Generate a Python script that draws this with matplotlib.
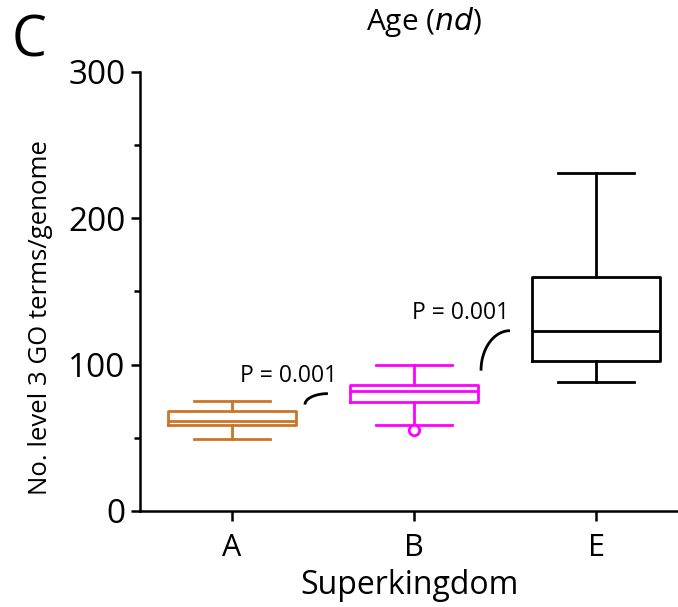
import numpy as np
import matplotlib
matplotlib.use("Agg")
import matplotlib.pyplot as plt
from matplotlib.ticker import MultipleLocator

plt.rcParams['font.family'] = ['Open Sans', 'DejaVu Sans']

# Box summaries per superkingdom (No. level 3 GO terms per genome)
groups = ["A", "B", "E"]
colors = ["#CD7526", "#FF00FF", "#000000"]
whis_low = [49.3, 59.0, 88.2]
q1 = [58.6, 74.7, 102.3]
medians = [61.8, 81.8, 122.7]
q3 = [68.6, 85.9, 160.0]
whis_high = [75.0, 100.0, 231.3]
outliers = [[], [55.0], []]

# Pairwise tests between neighbouring groups
p_labels = ["P = 0.001", "P = 0.001"]
p_text_xy = [(1.313, 92.0), (2.258, 135.0)]
# connector arcs: (x start, x end, y bottom, y top)
p_arcs = [(1.401, 1.527, 72.7, 80.2), (2.368, 2.527, 95.9, 123.2)]

fig = plt.figure(figsize=(6.78, 6.07), dpi=100)
ax = fig.add_axes([0.2065, 0.1582, 0.7935, 0.7232])

for i, g in enumerate(groups):
    stats = [dict(label=g, whislo=whis_low[i], q1=q1[i], med=medians[i],
                  q3=q3[i], whishi=whis_high[i], fliers=outliers[i])]
    c = colors[i]
    lw = 2.0
    ax.bxp(stats, positions=[i + 1], widths=0.70, showfliers=True,
           boxprops=dict(color=c, linewidth=lw),
           medianprops=dict(color=c, linewidth=lw),
           whiskerprops=dict(color=c, linewidth=lw),
           capprops=dict(color=c, linewidth=lw),
           capwidths=0.42,
           flierprops=dict(marker="o", markerfacecolor="white",
                           markeredgecolor=c, markersize=7.5,
                           markeredgewidth=2.0),
           manage_ticks=False)

for label, (tx, ty), (x0, x1, y0, y1) in zip(p_labels, p_text_xy, p_arcs):
    ax.text(tx, ty, label, ha="center", va="center", fontsize=16.5)
    t = np.linspace(np.pi, np.pi / 2, 40)
    ax.plot(x1 + (x1 - x0) * np.cos(t), y0 + (y1 - y0) * np.sin(t),
            color="black", linewidth=2.0, solid_capstyle="butt")

ax.set_xlim(0.495, 3.45)
ax.set_ylim(0, 300)
ax.set_xticks([1, 2, 3])
ax.set_xticklabels(groups)
ax.yaxis.set_major_locator(MultipleLocator(100))
ax.yaxis.set_minor_locator(MultipleLocator(50))

for side in ["top", "right"]:
    ax.spines[side].set_visible(False)
for side in ["left", "bottom"]:
    ax.spines[side].set_linewidth(1.8)

ax.tick_params(axis="y", which="major", length=6.5, width=1.8, labelsize=24, pad=4)
ax.tick_params(axis="y", which="minor", length=4.5, width=1.8)
ax.tick_params(axis="x", which="major", length=7, width=1.8, labelsize=22, pad=9)

ax.set_xlabel("Superkingdom", fontsize=23, labelpad=4)
ax.set_ylabel("No. level 3 GO terms/genome", fontsize=18.5)
ax.yaxis.set_label_coords(-0.162, 0.44)

fig.text(0.625, 0.963, "Age ($\\it{nd}$)", ha="center", va="center", fontsize=21.5)
fig.text(0.043, 0.93, "C", ha="center", va="center", fontsize=40)

fig.savefig("out.png", dpi=100)
